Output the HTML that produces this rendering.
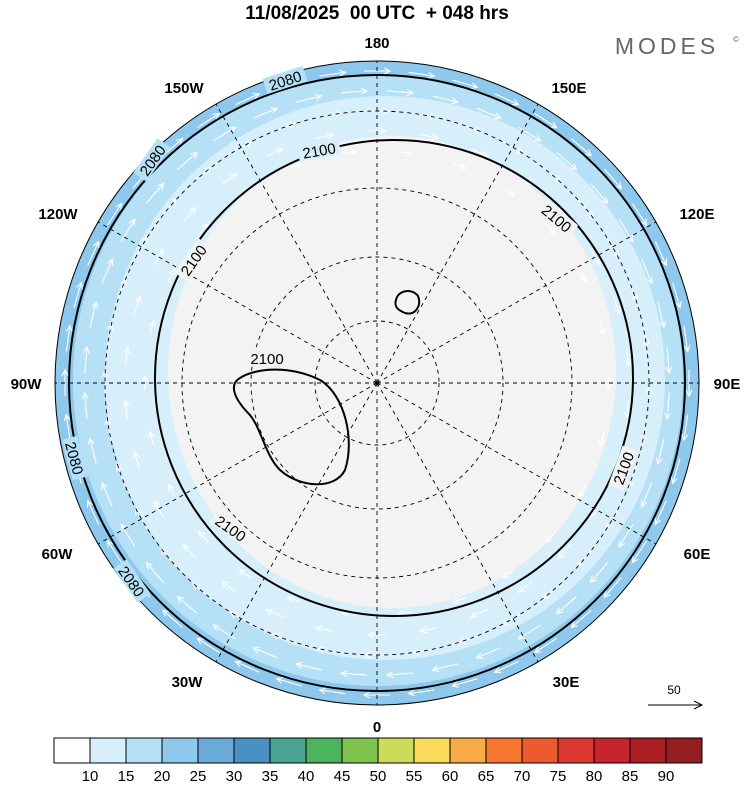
<!DOCTYPE html>
<html><head><meta charset="utf-8"><style>
body{margin:0;background:#fff;width:750px;height:782px;overflow:hidden;font-family:"Liberation Sans",sans-serif}
</style></head><body>
<svg id="s" width="750" height="782" viewBox="0 0 750 782" xmlns="http://www.w3.org/2000/svg" font-family="Liberation Sans, sans-serif">
<defs><clipPath id="c"><circle cx="377" cy="383" r="322"/></clipPath></defs>
<text x="377" y="19" text-anchor="middle" font-size="19" font-weight="bold" style="white-space:pre">11/08/2025  00 UTC  + 048 hrs</text>
<text x="667" y="54" text-anchor="middle" font-size="23" fill="#666" letter-spacing="4">MODES</text>
<text x="733" y="42" font-size="8" fill="#666">©</text>
<g clip-path="url(#c)">
<circle cx="377" cy="383" r="322" fill="#8ec8ec"/>
<ellipse cx="378" cy="380" rx="305" ry="306" fill="#b6e0f6"/>
<ellipse cx="385" cy="378" rx="280" ry="282" fill="#d6effb"/>
<ellipse cx="392" cy="372" rx="224" ry="236" fill="#f3f3f3"/>
<g id="arr" stroke="#fff" stroke-width="1.1" fill="none"></g>
<g stroke="#000" stroke-width="0.9" stroke-dasharray="4,4" fill="none">
<circle cx="377" cy="383" r="62"/><circle cx="377" cy="383" r="126"/><circle cx="377" cy="383" r="195"/><circle cx="377" cy="383" r="272"/>
<g id="mer"></g>
</g>
<g stroke="#000" stroke-width="2" fill="none">
<circle cx="377" cy="383" r="308"/>
<ellipse cx="394" cy="378" rx="239" ry="238"/>
<path d="M240,378 C255,368 290,365 320,380 C345,395 355,440 345,470 C335,490 300,488 280,470 C265,455 262,430 250,415 C235,400 228,385 240,378Z"/>
<path d="M396,300 C398,290 412,288 418,296 C422,306 415,316 405,313 C397,310 394,306 396,300Z"/>
</g>
</g>
<circle cx="377" cy="383" r="322" fill="none" stroke="#000" stroke-width="1"/>
<g font-size="15" fill="#000">
<g fill="#000" font-size="15">
<rect x="264" y="72" width="42" height="16" fill="#b6e0f6" transform="rotate(-18 285 80)"/>
<text x="285" y="86" text-anchor="middle" transform="rotate(-18 285 80)">2080</text>
<rect x="131" y="152" width="42" height="16" fill="#b6e0f6" transform="rotate(-55 152 160)"/>
<text x="152" y="166" text-anchor="middle" transform="rotate(-55 152 160)">2080</text>
<rect x="54" y="450" width="42" height="16" fill="#b6e0f6" transform="rotate(75 75 458)"/>
<text x="75" y="464" text-anchor="middle" transform="rotate(75 75 458)">2080</text>
<rect x="111" y="573" width="42" height="16" fill="#b6e0f6" transform="rotate(55 132 581)"/>
<text x="132" y="587" text-anchor="middle" transform="rotate(55 132 581)">2080</text>
<rect x="298" y="142" width="42" height="16" fill="#d6effb" transform="rotate(-10 319 150)"/>
<text x="319" y="156" text-anchor="middle" transform="rotate(-10 319 150)">2100</text>
<rect x="172" y="252" width="42" height="16" fill="#f3f3f3" transform="rotate(-55 193 260)"/>
<text x="193" y="266" text-anchor="middle" transform="rotate(-55 193 260)">2100</text>
<rect x="536" y="210" width="42" height="16" fill="#f3f3f3" transform="rotate(40 557 218)"/>
<text x="557" y="224" text-anchor="middle" transform="rotate(40 557 218)">2100</text>
<rect x="602" y="460" width="42" height="16" fill="#f3f3f3" transform="rotate(-70 623 468)"/>
<text x="623" y="474" text-anchor="middle" transform="rotate(-70 623 468)">2100</text>
<rect x="210" y="520" width="42" height="16" fill="#f3f3f3" transform="rotate(35 231 528)"/>
<text x="231" y="534" text-anchor="middle" transform="rotate(35 231 528)">2100</text>
<rect x="246" y="350" width="42" height="16" fill="#f3f3f3"/>
<text x="267" y="364" text-anchor="middle">2100</text>
</g>
<g font-weight="bold">
<text x="377" y="48" text-anchor="middle">180</text>
<text x="377" y="732" text-anchor="middle">0</text>
<text x="26" y="389" text-anchor="middle">90W</text>
<text x="727" y="389" text-anchor="middle">90E</text>
<text x="184" y="93" text-anchor="middle">150W</text>
<text x="569" y="93" text-anchor="middle">150E</text>
<text x="58" y="219" text-anchor="middle">120W</text>
<text x="697" y="219" text-anchor="middle">120E</text>
<text x="57" y="559" text-anchor="middle">60W</text>
<text x="697" y="559" text-anchor="middle">60E</text>
<text x="187" y="687" text-anchor="middle">30W</text>
<text x="566" y="687" text-anchor="middle">30E</text>
</g>
</g>
<text x="674" y="694" text-anchor="middle" font-size="12">50</text>
<line x1="648" y1="705" x2="701" y2="705" stroke="#000" stroke-width="1"/>
<path d="M694,701 L702,705 L694,709" stroke="#000" fill="none"/>
<g id="cb" stroke="#000" stroke-width="1"></g>
<g id="cbl" font-size="15" text-anchor="middle"></g>
</svg>
<script>
var NS="http://www.w3.org/2000/svg";
function el(p,t,a){var e=document.createElementNS(NS,t);for(var k in a)e.setAttribute(k,a[k]);p.appendChild(e);return e;}
var cx=377,cy=383;
var mer=document.getElementById("mer");
for(var i=0;i<12;i++){var a=i*Math.PI/6;el(mer,"line",{x1:cx,y1:cy,x2:cx+330*Math.cos(a),y2:cy+330*Math.sin(a)});}
var arr=document.getElementById("arr");
var rings=[[232,14,26],[252,18,30],[272,24,36],[292,26,40],[312,26,44]];
rings.forEach(function(r,ri){var R=r[0],L=r[1],n=r[2];
for(var j=0;j<n;j++){var t=(j+ri*0.5)/n*2*Math.PI;var x=cx+R*Math.cos(t),y=cy+R*Math.sin(t);
var ux=-Math.sin(t),uy=Math.cos(t);
var x1=x-ux*L/2,y1=y-uy*L/2,x2=x+ux*L/2,y2=y+uy*L/2;
el(arr,"line",{x1:x1,y1:y1,x2:x2,y2:y2});
var hx=-uy,hy=ux;
el(arr,"path",{d:"M"+(x2-ux*6+hx*3)+","+(y2-uy*6+hy*3)+" L"+x2+","+y2+" L"+(x2-ux*6-hx*3)+","+(y2-uy*6-hy*3)});}
});
var cols=["#ffffff","#d6effb","#b6e0f6","#8ec8ec","#6aaad8","#4b90c4","#4aa594","#4cb45c","#80c450","#cadc58","#fbdb5c","#f8ac48","#f67830","#ec5a30","#dc3830","#c8242c","#ab1e24","#951e20"];
var cb=document.getElementById("cb"),cbl=document.getElementById("cbl");
for(var i=0;i<18;i++){el(cb,"rect",{x:54+i*36,y:738,width:36,height:25,fill:cols[i]});}
for(var i=1;i<=17;i++){var t=el(cbl,"text",{x:54+i*36,y:781});t.textContent=String(5+i*5);}
</script>
</body></html>
